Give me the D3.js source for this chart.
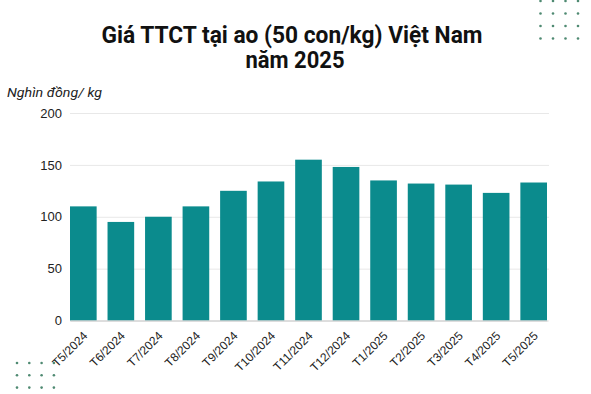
<!DOCTYPE html>
<html>
<head>
<meta charset="utf-8">
<script src="https://cdn.jsdelivr.net/npm/d3@7"></script>
<style>
  html, body { margin: 0; padding: 0; background: #fff; }
  svg { display: block; }
</style>
</head>
<body>
<svg id="chart"></svg>
<script>
const months = ["T5/2024", "T6/2024", "T7/2024", "T8/2024", "T9/2024", "T10/2024", "T11/2024",
  "T12/2024", "T1/2025", "T2/2025", "T3/2025", "T4/2025", "T5/2025"];
const prices = [110, 95, 100, 110, 125, 134, 155, 148, 135, 132, 131, 123, 133];
const yTicks = [0, 50, 100, 150, 200];

const width = 591, height = 394;
const margin = { top: 113, right: 44, bottom: 74, left: 70 };
const barColor = "#0b8b8d";

const svg = d3.select("#chart")
  .attr("width", width)
  .attr("height", height);

const x = d3.scaleBand()
  .domain(months)
  .range([margin.left, width - margin.right])
  .paddingInner(0.29)
  .paddingOuter(0);

const y = d3.scaleLinear()
  .domain([0, 200])
  .range([height - margin.bottom + 0.5, margin.top]);

// gridlines + y labels
const yAxis = d3.axisLeft(y)
  .tickValues(yTicks)
  .tickSize(-(width - margin.left - margin.right + 2))
  .tickPadding(8);

svg.append("g")
  .attr("transform", `translate(${margin.left},0)`)
  .call(yAxis)
  .call(g => g.select(".domain").remove())
  .call(g => g.selectAll(".tick line").attr("stroke", "#e8e8e8"))
  .call(g => g.selectAll(".tick text")
    .attr("fill", "#222")
    .attr("font-family", "'Liberation Sans', Arial, sans-serif")
    .attr("font-size", 13));

svg.selectAll("rect.bar")
  .data(prices)
  .enter()
  .append("rect")
  .attr("class", "bar")
  .attr("x", (d, i) => x(months[i]))
  .attr("y", d => y(d))
  .attr("width", x.bandwidth())
  .attr("height", d => y(0) - y(d))
  .attr("fill", barColor);

// x axis
const xAxis = d3.axisBottom(x).tickSize(0).tickPadding(0);
svg.append("g")
  .attr("transform", `translate(0,${y(0)})`)
  .call(xAxis)
  .call(g => g.select(".domain").attr("stroke", "#c8c8c8"))
  .call(g => g.selectAll(".tick text")
    .attr("fill", "#222")
    .attr("font-family", "'Liberation Sans', Arial, sans-serif")
    .attr("font-size", 12)
    .attr("text-anchor", "end")
    .attr("dy", 0)
    .attr("transform", "translate(5,16) rotate(-45)"));

// title
const title = svg.append("g")
  .attr("font-family", "Roboto, 'Liberation Sans', sans-serif")
  .attr("font-weight", "bold")
  .attr("font-size", 23)
  .attr("fill", "#111")
  .attr("text-anchor", "middle");
title.append("text")
  .attr("x", 292).attr("y", 43)
  .attr("textLength", 381)
  .attr("lengthAdjust", "spacingAndGlyphs")
  .text("Giá TTCT tại ao (50 con/kg) Việt Nam");
title.append("text")
  .attr("x", 295).attr("y", 67.5)
  .attr("textLength", 99)
  .attr("lengthAdjust", "spacingAndGlyphs")
  .text("năm 2025");

// unit label
svg.append("text")
  .attr("x", 7).attr("y", 97)
  .attr("font-family", "Roboto, 'Liberation Sans', sans-serif")
  .attr("font-style", "italic")
  .attr("font-size", 13.5)
  .attr("fill", "#222")
  .attr("textLength", 95)
  .attr("lengthAdjust", "spacingAndGlyphs")
  .text("Nghìn đồng/ kg");

// decorative dot grids
function dotGrid(x0, y0, cols, rows, gap) {
  const pts = d3.cross(d3.range(cols), d3.range(rows));
  svg.append("g")
    .selectAll("circle")
    .data(pts)
    .enter()
    .append("circle")
    .attr("cx", d => x0 + d[0] * gap)
    .attr("cy", d => y0 + d[1] * gap)
    .attr("r", 1.3)
    .attr("fill", "#4f8a72");
}
dotGrid(540.5, 1, 4, 4, 12.5);
dotGrid(17, 363, 4, 3, 12.3);
</script>
</body>
</html>
